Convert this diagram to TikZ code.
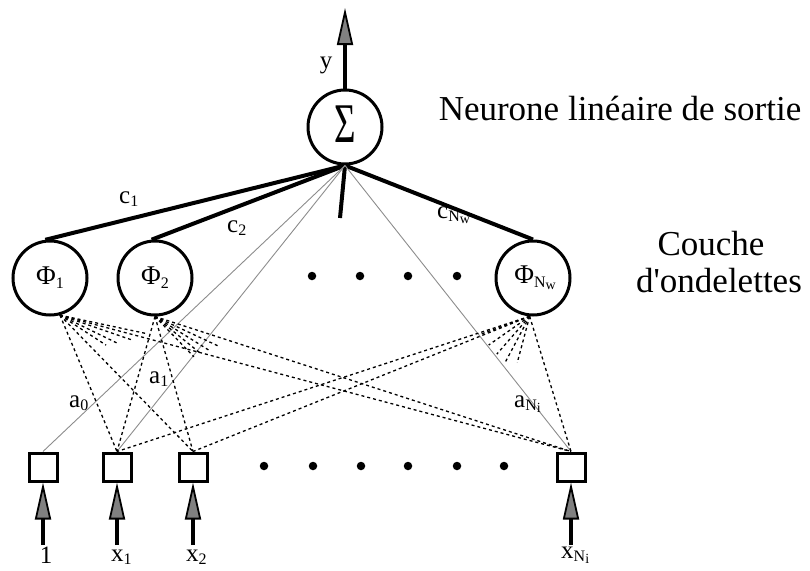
\documentclass[tikz,border=0pt]{standalone}
\usepackage{fontspec}
\setmainfont{Liberation Serif}[Ligatures=TeXOff]
\usetikzlibrary{arrows.meta,calc}
% subscripts and second-level subscripts for the labels
\newcommand\sbx[1]{\raisebox{-0.3ex}{\fontsize{16}{16}\selectfont #1}}
\newcommand\ssbx[1]{\raisebox{-0.3ex}{\fontsize{14}{14}\selectfont #1}}

\begin{document}
\begin{tikzpicture}[x=1pt,y=-1pt,
  lbl/.style={font=\fontsize{25}{25}\selectfont, inner sep=0pt},
  big/.style={font=\fontsize{35}{35}\selectfont, inner sep=0pt},
  neuron/.style={circle, draw, line width=3pt, minimum size=74pt, inner sep=0pt,
                 font=\fontsize{27}{27}\selectfont},
  inbox/.style={rectangle, draw, line width=3pt, minimum size=28pt, inner sep=0pt, fill=white},
  weight/.style={line width=4pt},
  direct/.style={black!45, line width=0.9pt},
  wave/.style={line width=1.3pt, dash pattern=on 3pt off 3pt},
  feed/.style={line width=3.2pt, -{Triangle[length=37pt,width=16pt,fill=black!50,line width=1.8pt]}},
  dot/.style={circle, fill, inner sep=0pt, minimum size=8.5pt}
]
\useasboundingbox (0,0) rectangle (810,570);

% output neuron, wavelet layer, input boxes
\node[neuron] (S) at (345,127) {\scalebox{0.66}[1]{\fontsize{56}{56}\selectfont\raisebox{-15pt}[0pt][0pt]{Σ}}};
\node[neuron] (p1) at (50,278) {Φ\sbx{1}};
\node[neuron] (p2) at (155,278) {Φ\sbx{2}};
\node[neuron] (p3) at (533,278) {\hspace{4pt}Φ\sbx{N\ssbx{w}}};

\node[inbox] (b0) at (43,467) {};
\node[inbox] (b1) at (117,467) {};
\node[inbox] (b2) at (193,467) {};
\node[inbox] (bn) at (571,467) {};

% ellipsis dots
\foreach \x [count=\i] in {312,360,408,457} \node[dot] (dw\i) at (\x,276) {};
\foreach \x [count=\i] in {264,313,361,408,457,504} \node[dot] (di\i) at (\x,466) {};

% side captions
\node[big, anchor=base] (t1) at (620,120) {Neurone linéaire de sortie};
\node[big, anchor=base] (t2) at (711,255) {Couche};
\node[big, anchor=base] (t3) at (719,292) {d'ondelettes};

% output arrow and input arrows
\coordinate (yout) at (345,8);
\draw[feed] (S.north) -- (yout);
\foreach \b/\x in {b0/43,b1/117,b2/193,bn/571}{
  \coordinate (in-\b) at (\x,545);
  \draw[feed] (in-\b) -- (\b.south);
}

% weights c from the wavelets to the output
\draw[weight] (S.south) -- (p1.97);
\draw[weight] (S.south) -- (p2.95);
\draw[weight] (S.south) -- (p3.north);
\coordinate (mid) at (340,218);
\draw[weight] (S.south) -- (mid);

% direct input-output connections
\draw[direct] (S.south) -- (b0.north);
\draw[direct] (S.south) -- (b1.north);
\draw[direct] (S.south) -- (bn.north);
\foreach \p [count=\i] in {(317,218),(325,219),(332,215),(357,221),(365,219),(373,211)}{
  \coordinate (sd\i) at \p;
  \draw[direct] (S.south) -- (sd\i);
}

% input to wavelet connections
\coordinate (q1) at (p1.-75);
\coordinate (q2) at (p2.south);
\coordinate (q3) at (p3.-95);
\foreach \q in {q1,q2,q3}
  \foreach \b in {b1,b2,bn}
    \draw[wave] (\q) -- (\b.north);
\foreach \a/\l [count=\i] in {12/88,19/75,26/64,33/55}{
  \coordinate (e1-\i) at ($(q1)+(\a:\l)$);
  \draw[wave] (q1) -- (e1-\i);
}
\foreach \a/\l [count=\i] in {25/70,32/65,39/60,46/56}{
  \coordinate (e2-\i) at ($(q2)+(\a:\l)$);
  \draw[wave] (q2) -- (e2-\i);
}
\foreach \a/\l [count=\i] in {105/48,118/52,131/50,145/50,160/53}{
  \coordinate (e3-\i) at ($(q3)+(\a:\l)$);
  \draw[wave] (q3) -- (e3-\i);
}

% labels
\node[lbl, anchor=base] (ly) at (326,68) {y};
\node[lbl, anchor=base west] (lc1) at (119,203) {c\sbx{1}};
\node[lbl, anchor=base west] (lc2) at (227,232) {c\sbx{2}};
\node[lbl, anchor=base west] (lcn) at (437,218) {c\sbx{N\ssbx{w}}};
\node[lbl, anchor=base west] (la0) at (69,407) {a\sbx{0}};
\node[lbl, anchor=base west] (la1) at (149,383) {a\sbx{1}};
\node[lbl, anchor=base west] (lan) at (514,407) {a\sbx{N\ssbx{i}}};
\node[lbl, anchor=base] (lx0) at (46,563) {1};
\node[lbl, anchor=base west] (lx1) at (111,561) {x\sbx{1}};
\node[lbl, anchor=base west] (lx2) at (186,561) {x\sbx{2}};
\node[lbl, anchor=base west] (lxn) at (561,558) {x\sbx{N\ssbx{i}}};
\end{tikzpicture}
\end{document}
